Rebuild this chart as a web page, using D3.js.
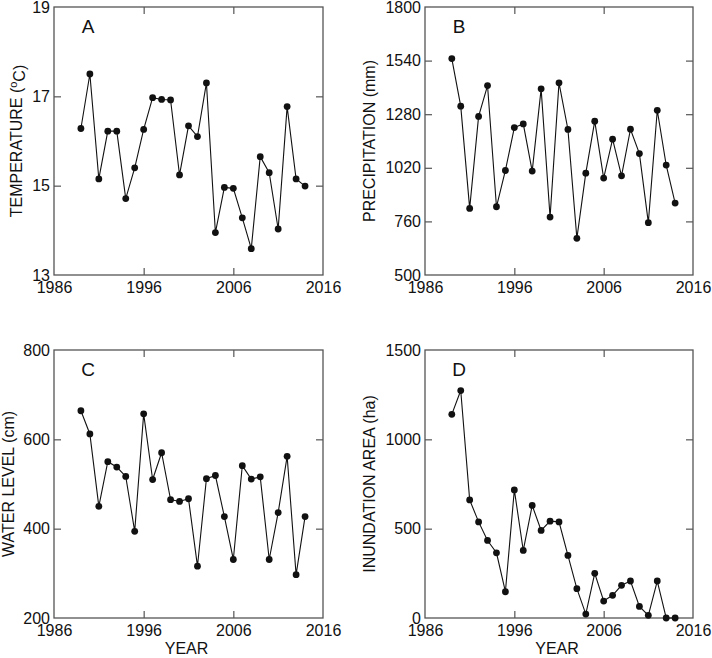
<!DOCTYPE html>
<html>
<head>
<meta charset="utf-8">
<script src="https://cdn.jsdelivr.net/npm/d3@7"></script>
<style>
  html, body { margin: 0; padding: 0; background: #fff; }
  text { font-family: "Liberation Sans", Arial, sans-serif; fill: #111; }
</style>
</head>
<body>
<svg id="chart" width="712" height="658"></svg>
<script>
const years = [1989,1990,1991,1992,1993,1994,1995,1996,1997,1998,1999,2000,2001,2002,2003,2004,2005,2006,2007,2008,2009,2010,2011,2012,2013,2014];
const temperature = [16.28,17.50,15.15,16.22,16.22,14.71,15.40,16.26,16.97,16.93,16.92,15.24,16.34,16.10,17.30,13.95,14.96,14.94,14.28,13.59,15.65,15.29,14.03,16.77,15.15,14.99];
const precipitation = [1550,1319,823,1269,1419,831,1007,1215,1233,1004,1403,781,1432,1206,678,994,1246,970,1159,981,1207,1089,754,1299,1033,849];
const waterLevel = [664,612,450,550,538,517,394,657,510,570,465,461,467,316,512,519,427,331,541,511,516,331,436,562,297,427];
const inundation = [1140,1273,661,538,434,365,147,717,378,630,490,542,538,350,164,22,250,95,127,183,207,65,15,207,0,0];

const xTicks = [1986,1996,2006,2016];
const tempTicks = [13,15,17,19];
const precTicks = [500,760,1020,1280,1540,1800];
const waterTicks = [200,400,600,800];
const inunTicks = [0,500,1000,1500];

const panels = [
  {letter:"A", values:temperature, ticks:tempTicks, title:"TEMPERATURE (", sup:"o", titleEnd:"C)", x0:54, x1:323, y0:7, y1:275, titleX:16.5, xlabel:false},
  {letter:"B", values:precipitation, ticks:precTicks, title:"PRECIPITATION (mm)", x0:425, x1:693, y0:7, y1:275, titleX:369.5, xlabel:false},
  {letter:"C", values:waterLevel, ticks:waterTicks, title:"WATER LEVEL (cm)", x0:54, x1:323, y0:350, y1:618, titleX:8.5, xlabel:true},
  {letter:"D", values:inundation, ticks:inunTicks, title:"INUNDATION AREA (ha)", x0:425, x1:693, y0:350, y1:618, titleX:369.5, xlabel:true}
];

const svg = d3.select("#chart");
const frameColor = "#555";

panels.forEach(p => {
  const x = d3.scaleLinear().domain([xTicks[0], xTicks[xTicks.length-1]]).range([p.x0, p.x1]);
  const y = d3.scaleLinear().domain([p.ticks[0], p.ticks[p.ticks.length-1]]).range([p.y1, p.y0]);
  const g = svg.append("g");

  const inner = 7;
  const styleAxis = sel => {
    sel.select(".domain").remove();
    sel.selectAll(".tick line").attr("stroke", frameColor).attr("stroke-width", 1.2);
    sel.selectAll(".tick text").style("font-family", '"Liberation Sans", Arial, sans-serif').style("font-size", "16px").attr("fill", "#111");
  };
  const midX = xTicks.slice(1, -1);
  const midY = p.ticks.slice(1, -1);

  g.append("g").attr("transform", `translate(0,${p.y1})`)
    .call(d3.axisBottom(x).tickValues(xTicks).tickFormat(d3.format("d")).tickSizeInner(-inner).tickSizeOuter(0).tickPadding(7))
    .call(styleAxis)
    .call(s => s.selectAll(".tick").filter(d => !midX.includes(d)).select("line").remove());

  g.append("g").attr("transform", `translate(0,${p.y0})`)
    .call(d3.axisTop(x).tickValues(midX).tickFormat("").tickSizeInner(-inner).tickSizeOuter(0))
    .call(styleAxis);

  g.append("g").attr("transform", `translate(${p.x0},0)`)
    .call(d3.axisLeft(y).tickValues(p.ticks).tickFormat(d3.format("d")).tickSizeInner(-inner).tickSizeOuter(0).tickPadding(4))
    .call(styleAxis)
    .call(s => s.selectAll(".tick").filter(d => !midY.includes(d)).select("line").remove());

  g.append("g").attr("transform", `translate(${p.x1},0)`)
    .call(d3.axisRight(y).tickValues(midY).tickFormat("").tickSizeInner(-inner).tickSizeOuter(0))
    .call(styleAxis);

  g.append("rect").attr("x", p.x0).attr("y", p.y0).attr("width", p.x1 - p.x0).attr("height", p.y1 - p.y0)
    .attr("fill", "none").attr("stroke", frameColor).attr("stroke-width", 1.3);

  const data = years.map((yr, i) => ({yr, v: p.values[i]}));
  g.append("path").datum(data)
    .attr("fill", "none").attr("stroke", "#111").attr("stroke-width", 1.1)
    .attr("d", d3.line().x(d => x(d.yr)).y(d => y(d.v)));
  g.selectAll("circle.pt").data(data).enter().append("circle")
    .attr("class", "pt").attr("cx", d => x(d.yr)).attr("cy", d => y(d.v)).attr("r", 3.4).attr("fill", "#111");

  g.append("text").attr("x", p.x0 + 34).attr("y", p.y0 + 26).attr("text-anchor", "middle")
    .style("font-size", "19px").text(p.letter);

  const cy = (p.y0 + p.y1) / 2;
  const t = g.append("text").attr("transform", `translate(${p.titleX},${cy}) rotate(-90)`)
    .attr("text-anchor", "middle").attr("dy", "0.36em").style("font-size", "16px");
  if (p.sup) {
    t.append("tspan").text(p.title);
    t.append("tspan").attr("dy", "-0.45em").style("font-size", "11px").text(p.sup);
    t.append("tspan").attr("dy", "0.45em").text(p.titleEnd);
  } else {
    t.text(p.title);
  }

  if (p.xlabel) {
    g.append("text").attr("x", (p.x0 + p.x1) / 2 - 2).attr("y", 654).attr("text-anchor", "middle")
      .style("font-size", "16px").text("YEAR");
  }
});
</script>
</body>
</html>
